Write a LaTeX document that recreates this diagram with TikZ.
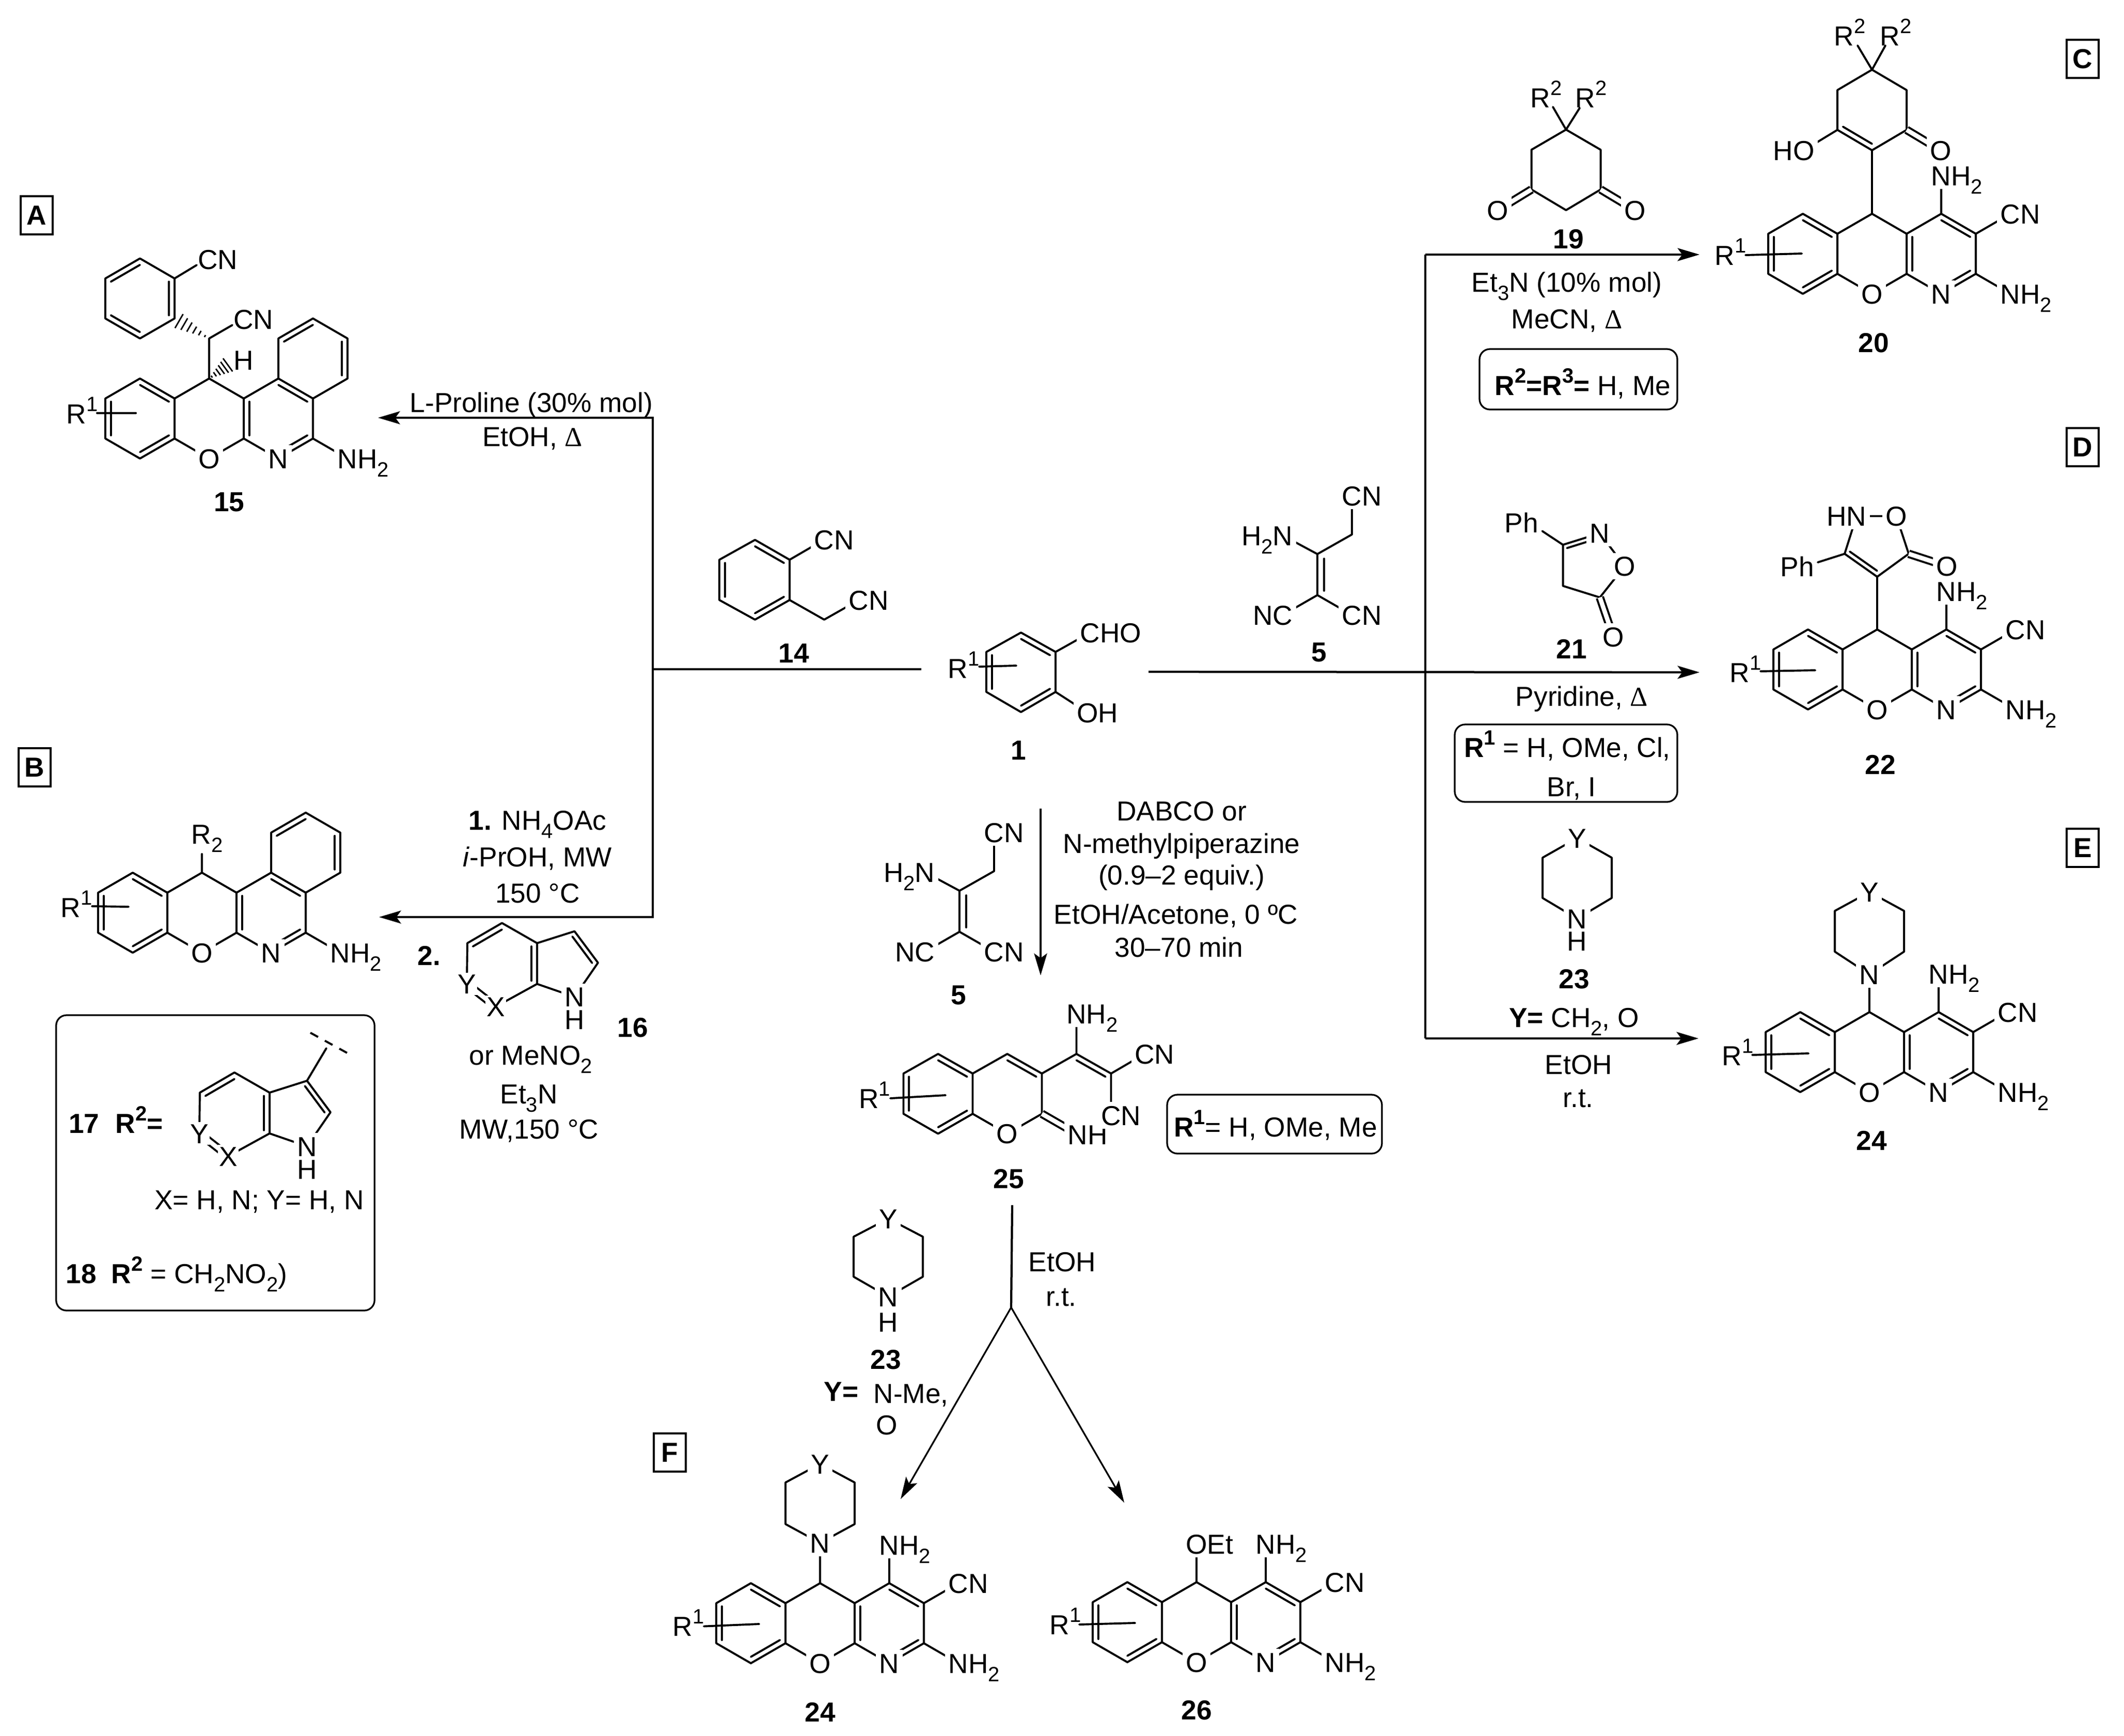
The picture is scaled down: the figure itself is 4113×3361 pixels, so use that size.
\documentclass[tikz,border=0pt]{standalone}
\usepackage{fontspec}
\setmainfont{Liberation Sans}
\newfontfamily\serf{Liberation Serif}
\usetikzlibrary{calc,arrows.meta}
\newcommand\rgt[1]{\rlap{\smash{#1}}}
\newcommand\lft[1]{\llap{\smash{#1}}}
\newcommand\sbs[1]{\raisebox{-.3em}{\fontsize{8}{8}\selectfont #1}}
\newcommand\sps[1]{\raisebox{.45em}{\fontsize{8}{8}\selectfont #1}}
\newcommand\dlt{{\serf Δ}}
\newcommand\NHtwo{N\rgt{H\sbs{2}}}
\newcommand\Cn{C\rgt{N}}
\newcommand\dbl[3]{\draw[bond] ($(#1)!.16!(#3)$) -- ($(#2)!.16!(#3)$);}
\newcommand\hashb[2]{\foreach \hh in {.12,.27,.42,.57,.72,.87}{\draw[line width=.55pt] ($(#1)!\hh!(#2)!{\hh*3.6pt}!90:(#2)$) -- ($(#1)!\hh!(#2)!{-\hh*3.6pt}!90:(#2)$);}}
% chromeno-pyridine core: origin at the pyran CH
\newcommand\core[3]{\begin{scope}[tpl={#2}{#3}]
 \draw[bond] (-2,0)--(-1,1)--(-1,3)--(-2,4)--(-3,3)--(-3,1)--cycle;
 \draw[bond] (-1,1)--(0,0)--(1,1)--(1,3)--(0,4)--(-1,3);
 \draw[bond] (1,1)--(2,0)--(3,1)--(3,3)--(2,4)--(1,3);
 \dbl{-2,0}{-1,1}{-2,2}\dbl{-1,3}{-2,4}{-2,2}\dbl{-3,3}{-3,1}{-2,2}
 \dbl{1,1}{1,3}{2,2}\dbl{2,0}{3,1}{2,2}\dbl{3,3}{2,4}{2,2}
 \node[atom] (#1O) at (0,4) {O};
 \node[atom] (#1N) at (2,4) {N};
\end{scope}}
% amino-cyano pyridine core
\newcommand\pyrid[3]{\core{#1}{#2}{#3}\begin{scope}[tpl={#2}{#3}]
 \draw[bond] (3,1)--(4,0) (3,3)--(4,4) (2,0)--(2,-1.9);
 \node[atom] (#1CN) at (4,0) {\Cn};
 \node[atom] (#1Na) at (4,4) {\NHtwo};
 \node[atom] (#1Nb) at (2,-1.9) {\NHtwo};
\end{scope}}
\newcommand\rone[7]{\node[lab] (#1) at (#2,#3) {R\rgt{\sps{1}}};\draw[bond] (#4,#5)--(#6,#7);}
% piperazine-type ring: name, cx, yY, y1, y2, yN
\newcommand\pipz[6]{\draw[bond] (#2,#6)--(#2-67,#5)--(#2-67,#4)--(#2,#3)--(#2+67,#4)--(#2+67,#5)--cycle;
 \node[atom] (#1Y) at (#2,#3) {Y};\node[atom] (#1N) at (#2,#6) {N};}
% aminotricyanopropene
\newcommand\malo[3]{\begin{scope}[shift={(#2,#3)}]
 \draw[bond] (-67,-36)--(0,0)--(67,-38)--(67,-112.5) (0,0)--(0,79.5) (-67,118)--(0,79.5)--(67,118);
 \draw[bond] (13,9)--(13,71);
 \node[atom] (#1a) at (67,-112.5) {\Cn};
 \node[atom] (#1b) at (-67,-36) {\lft{H\sbs{2}}N};
 \node[atom] (#1c) at (-67,118) {\lft{N}C};
 \node[atom] (#1d) at (67,118) {\Cn};
\end{scope}}
% azaindole
\newcommand\indl[3]{\begin{scope}[shift={(#2,#3)}]
 \draw[bond] (68,118)--(68,39)--(0,0)--(-67,39)--(-68,118);
 \draw[bond] (68,39)--(140.5,16)--(186,77)--(140.5,143)--(68,118)--(-12,162);
 \dbl{0,0}{-67,39}{0,79}\dbl{68,39}{68,118}{0,79}\dbl{140.5,16}{186,77}{115,80}
 \draw[dbo] (-68,118)--(-12,162);
 \node[atom,inner sep=.5pt] (#1Y) at (-68,118) {Y};
 \node[atom,inner sep=.5pt] (#1X) at (-12,162) {X};
 \node[atom] (#1N) at (140.5,143) {N};
 \node[lab] (#1H) at (140.5,187) {H};
\end{scope}}
\newcommand\fnt{\fontsize{10.65}{12}\selectfont}
\tikzset{
 tpl/.style 2 args={shift={(#1,#2)},x=13.4pt,y=-7.75pt},
 bond/.style={line width=.78pt,line cap=round,line join=round},
 dbo/.style={line width=.78pt,double,double distance=1.7pt},
 atom/.style={fill=white,inner sep=1.3pt,text height=7.7pt,text depth=0pt},
 lab/.style={inner sep=0pt,text height=7.7pt,text depth=0pt},
 num/.style={lab,font=\fnt\bfseries},
 rbox/.style={draw,rounded corners=4pt,line width=.65pt,inner sep=0pt},
 tag/.style={draw,font=\fnt\bfseries,line width=.65pt,minimum width=12.4pt,minimum height=14.8pt,inner sep=0pt},
 rail/.style={line width=.85pt},
 arr/.style={line width=.85pt,-{Stealth[length=8.5pt,width=5pt,inset=1.8pt]}},
}
\begin{document}
\begin{tikzpicture}[x=.2pt,y=-.2pt,font=\fnt]
\useasboundingbox (0,0) rectangle (4113,3361);
\fill[white] (0,0) rectangle (4113,3361);

% tags
\node[tag] (tA) at (71,417) {A};
\node[tag] (tB) at (67,1486) {B};
\node[tag] (tC) at (4033,114) {C};
\node[tag] (tD) at (4033,866) {D};
\node[tag] (tE) at (4033,1642) {E};
\node[tag] (tF) at (1297,2813) {F};

% connectors
\coordinate (aL) at (732,809);
\coordinate (cL) at (1264,809);
\coordinate (mL) at (1264,1296);
\coordinate (mLb) at (1784,1296);
\coordinate (bL) at (1264,1776);
\coordinate (dL) at (734,1776);
\draw[arr] (mL) -- (cL) -- (aL);
\draw[arr] (mL) -- (bL) -- (dL);
\draw[rail] (mL) -- (mLb);
\coordinate (mR) at (2224,1301);
\coordinate (vT) at (2760,493);
\coordinate (vB) at (2760,2011);
\coordinate (tR) at (3291,493);
\coordinate (mRe) at (3291,1302);
\coordinate (bR) at (3289,2011);
\draw[arr] (vT) -- (tR);
\draw[arr] (mR) -- (mRe);
\draw[rail] (vT) -- (vB);
\draw[arr] (vB) -- (bR);
\coordinate (cT) at (2015,1566);
\coordinate (cB) at (2015,1889);
\draw[arr] (cT) -- (cB);
\coordinate (sT) at (1960,2334);
\coordinate (sB) at (1958,2532);
\coordinate (fL) at (1744,2903);
\coordinate (fR) at (2177,2910);
\draw[rail] (sT) -- (sB);
\draw[arr,line width=.65pt] (sB) -- (fL);
\draw[arr,line width=.65pt] (sB) -- (fR);

% 15
\core{a}{405}{733}
\begin{scope}[tpl={405}{733}]
 \draw[bond] (2,0)--(2,-2)--(3,-3)--(4,-2)--(4,0)--(3,1);
 \dbl{2,-2}{3,-3}{3,-1}\dbl{4,-2}{4,0}{3,-1}
 \draw[bond] (3,3)--(4,4);
 \node[atom] (aNH) at (4,4) {\NHtwo};
 \draw[bond] (0,0)--(0,-2)--(.67,-2.67);
 \draw[bond] (-1,-3)--(-1,-5)--(-2,-6)--(-3,-5)--(-3,-3)--(-2,-2)--cycle;
 \dbl{-1,-3}{-1,-5}{-2,-4}\dbl{-2,-6}{-3,-5}{-2,-4}\dbl{-3,-3}{-2,-2}{-2,-4}
 \draw[bond] (-1,-5)--(-.36,-5.67);
 \hashb{0,-2}{-1,-3}
 \hashb{0,0}{.62,-.78}
\end{scope}
\node[lab] (aCN1) at (422,502) {CN};
\node[lab] (aCN2) at (491,618) {CN};
\node[lab] (aH) at (472,697) {H};
\rone{aR}{148}{801}{188}{800}{263}{800}
\node[num] (l15) at (444,971) {15};
\node[lab] (tA1) at (1029,779) {L-Proline (30\% mol)};
\node[lab] (tA2) at (1031,845) {EtOH, \dlt};

% B product
\core{b}{391}{1690}
\begin{scope}[tpl={391}{1690}]
 \draw[bond] (2,0)--(2,-2)--(3,-3)--(4,-2)--(4,0)--(3,1);
 \dbl{2,-2}{3,-3}{3,-1}\dbl{4,-2}{4,0}{3,-1}
 \draw[bond] (3,3)--(4,4);
 \node[atom] (bNH) at (4,4) {\NHtwo};
\end{scope}
\coordinate (bRb) at (391,1654);
\draw[bond] (391,1690)--(bRb);
\node[lab] (bR2) at (390,1615) {R\rgt{\sbs{2}}};
\rone{bR}{137}{1757}{178}{1755}{249}{1756}
\node[lab] (tB1) at (1041,1588) {\textbf{1.} NH\sbs{4}OAc};
\node[lab] (tB2) at (1041,1659) {\textit{i}-PrOH, MW};
\node[lab] (tB3) at (1041,1729) {150 °C};
\node[num] (tB4) at (831,1850) {2.};
\indl{p}{972}{1787.5}
\node[num] (l16) at (1225,1989) {16};
\node[lab] (tB5) at (1028,2043) {or MeNO\sbs{2}};
\node[lab] (tB6) at (1024,2118) {Et\sbs{3}N};
\node[lab] (tB7) at (1024,2186) {MW,150 °C};

% box 17/18
\node[rbox,minimum width=123.3pt,minimum height=114.4pt] (box4) at (417,2252) {};
\node[num] (l17) at (163,2175) {17};
\node[lab] (r17) at (269.5,2175) {\textbf{R\sps{2}=}};
\indl{q}{454}{2077}
\coordinate (qA) at (594.5,2093);
\coordinate (qB) at (632,2030);
\coordinate (qC) at (601,2000);
\coordinate (qD) at (672,2039);
\draw[bond] (qA)--(qB);
\draw[line width=.78pt,dash pattern=on 3.4pt off 3pt] (qC)--(qD);
\node[lab] (xy) at (502,2323) {X= H, N; Y= H, N};
\node[num] (l18) at (157.5,2466) {18};
\node[lab] (r18) at (386,2466) {\textbf{R\sps{2}} = CH\sbs{2}NO\sbs{2})};

% 14
\draw[bond] (1462,1045.5)--(1529,1084)--(1529,1162)--(1462,1200)--(1393,1162)--(1393,1084)--cycle;
\dbl{1462,1045.5}{1529,1084}{1461,1123}\dbl{1529,1162}{1462,1200}{1461,1123}\dbl{1393,1162}{1393,1084}{1461,1123}
\draw[bond] (1529,1084)--(1596,1045) (1529,1162)--(1596,1200)--(1663,1162);
\node[atom] (m14a) at (1596,1045) {\Cn};
\node[atom] (m14b) at (1663,1162) {\Cn};
\node[num] (l14) at (1537,1264) {14};

% 1
\draw[bond] (1977,1225)--(2044,1262.5)--(2044,1340)--(1977,1379)--(1910,1340)--(1910,1262.5)--cycle;
\dbl{1977,1225}{2044,1262.5}{1977,1302}\dbl{2044,1340}{1977,1379}{1977,1302}\dbl{1910,1340}{1910,1262.5}{1977,1302}
\draw[bond] (2044,1262.5)--(2111,1225) (2044,1340)--(2106,1380);
\node[atom] (m1a) at (2111,1225) {C\rgt{HO}};
\node[atom] (m1b) at (2106,1380) {O\rgt{H}};
\rone{m1R}{1855}{1294}{1896}{1291}{1968}{1289}
\node[num] (l1) at (1972,1452) {1};

% 5 (both)
\malo{u}{2551}{1073}
\node[num] (l5a) at (2554,1262) {5};
\malo{v}{1858}{1725}
\node[num] (l5b) at (1856,1926) {5};
\node[lab] (c1) at (2288,1570.5) {DABCO or};
\node[lab] (c2) at (2288,1633) {N-methylpiperazine};
\node[lab] (c3) at (2288,1694) {(0.9–2 equiv.)};
\node[lab] (c4) at (2277,1770) {EtOH/Acetone, 0 ºC};
\node[lab] (c5) at (2283,1834) {30–70 min};

% 25
\draw[bond] (1816.5,2041)--(1883.5,2079)--(1883.5,2157)--(1816.5,2195.5)--(1749.5,2157)--(1749.5,2079)--cycle;
\dbl{1816.5,2041}{1883.5,2079}{1816.5,2118}\dbl{1883.5,2157}{1816.5,2195.5}{1816.5,2118}\dbl{1749.5,2157}{1749.5,2079}{1816.5,2118}
\draw[bond] (1883.5,2079)--(1950.5,2041)--(2017.5,2079)--(2017.5,2157)--(1950.5,2195.5)--(1883.5,2157);
\dbl{1950.5,2041}{2017.5,2079}{1950.5,2118}
\draw[bond] (2017.5,2079)--(2084.5,2041)--(2151.5,2079)--(2216.5,2041) (2084.5,2041)--(2084.5,1963) (2151.5,2079)--(2151.5,2160);
\dbl{2084.5,2041}{2151.5,2079}{2084.5,2118}
\draw[dbo] (2017.5,2157)--(2087,2197);
\node[atom] (yO) at (1950.5,2195.5) {O};
\node[atom] (yNH) at (2087,2197) {N\rgt{H}};
\node[atom] (yCN1) at (2216.5,2041) {\Cn};
\node[atom] (yCN2) at (2151.5,2160) {\Cn};
\node[atom] (yNH2) at (2084.5,1963) {\NHtwo};
\rone{yR}{1682.5}{2127}{1724}{2127}{1831}{2121}
\node[num] (l25) at (1953,2282) {25};
\node[rbox,minimum width=83.2pt,minimum height=22.8pt] (box3) at (2468,2177) {};
\node[lab] (t3) at (2470,2182) {\textbf{R\sps{1}}= H, OMe, Me};

% 23 lower
\pipz{w}{1720}{2360}{2395}{2472.5}{2511}
\node[lab] (wH) at (1720,2560) {H};
\node[num] (l23b) at (1715,2632) {23};
\node[num] (yeq) at (1629,2694) {Y=};
\node[lab] (nme) at (1764,2698) {N-Me,};
\node[lab] (oo) at (1717,2759) {O};
\node[lab] (e1) at (2057,2443) {EtOH};
\node[lab] (e2) at (2055,2510) {r.t.};

% 24 F
\draw[bond] (1588,3066)--(1588,2988);
\pyrid{f}{1588}{3066}
\pipz{fp}{1588}{2835}{2871}{2951.5}{2988}
\rone{fR}{1322}{3149.5}{1363}{3149.5}{1470}{3145}
\node[num] (l24b) at (1588,3315) {24};

% 26
\draw[bond] (2317,3064)--(2317,2990);
\pyrid{g}{2317}{3064}
\node[atom] (gO) at (2317,2990) {O\rgt{Et}};
\rone{gR}{2052}{3146}{2090}{3146}{2198}{3143}
\node[num] (l26) at (2317,3311) {26};

% 19
\draw[bond] (3032.5,251)--(3099.5,290)--(3099.5,367)--(3032.5,407)--(2965.5,367)--(2965.5,290)--cycle;
\draw[dbo] (3099.5,367)--(3166,407);
\draw[dbo] (2965.5,367)--(2900,407);
\node[atom] (nO1) at (3166,407) {O};
\node[atom] (nO2) at (2900,407) {O};
\coordinate (nA) at (3007,207);
\coordinate (nB) at (3059,209);
\draw[bond] (3032.5,251)--(nA) (3032.5,251)--(nB);
\node[lab] (nR1) at (2983,189) {R\rgt{\sps{2}}};
\node[lab] (nR2) at (3070,189) {R\rgt{\sps{2}}};
\node[num] (l19) at (3037,462) {19};
\node[lab] (n1) at (3034,546) {Et\sbs{3}N (10\% mol)};
\node[lab] (n2) at (3034,617) {MeCN, \dlt};
\node[rbox,minimum width=76.6pt,minimum height=23.4pt] (box1) at (3056.5,734.5) {};
\node[lab] (t1) at (3065,746) {\textbf{R\sps{2}=R\sps{3}=} H, Me};

% 20
\draw[bond] (3625,414)--(3625,291);
\pyrid{h}{3625}{414}
\draw[bond] (3625,291)--(3692,251.5)--(3692,174.5)--(3625,135)--(3558,174.5)--(3558,251.5)--cycle;
\dbl{3558,251.5}{3625,291}{3625,213}
\draw[bond] (3558,251.5)--(3493,291);
\draw[dbo] (3692,251.5)--(3758,291);
\node[atom] (hOH) at (3493,291) {\lft{H}O};
\node[atom] (hO) at (3758,291) {O};
\coordinate (hA) at (3597,88);
\coordinate (hB) at (3651,88);
\draw[bond] (3625,135)--(hA) (3625,135)--(hB);
\node[lab] (hR1) at (3571,69) {R\rgt{\sps{2}}};
\node[lab] (hR2) at (3660,69) {R\rgt{\sps{2}}};
\rone{hR}{3340}{494}{3380}{494}{3489}{491}
\node[num] (l20) at (3628,663) {20};

% 21
\draw[bond] (3098,1032.7)--(3026.5,1055)--(3026.5,1134.7)--(3098,1157)--(3146,1096.5)--cycle;
\dbl{3098,1032.7}{3026.5,1055}{3075,1095}
\draw[dbo] (3098,1157)--(3124,1233);
\node[atom] (kN) at (3098,1032.7) {N};
\node[atom] (kO) at (3146,1096.5) {O};
\node[atom] (kOb) at (3124,1233) {O};
\coordinate (kA) at (2986.5,1028.5);
\draw[bond] (3026.5,1055)--(kA);
\node[lab] (kPh) at (2946,1012) {Ph};
\node[num] (l21) at (3043,1256.5) {21};
\node[lab] (k1) at (3063,1348) {Pyridine, \dlt};
\node[rbox,minimum width=86.2pt,minimum height=30pt] (box2) at (3032.5,1478) {};
\node[lab] (t2a) at (3035,1447) {\textbf{R\sps{1}} = H, OMe, Cl,};
\node[lab] (t2b) at (3043,1523) {Br, I};

% 22
\draw[bond] (3635,1219)--(3635,1117);
\pyrid{i}{3635}{1219}
\draw[bond] (3635,1117)--(3572,1072.5)--(3595,999.5)--(3672,999.5)--(3696,1072.5)--cycle;
\dbl{3635,1117}{3572,1072.5}{3634,1045}
\draw[dbo] (3696,1072.5)--(3770,1096.5);
\node[atom] (iNH) at (3595,999.5) {\lft{H}N};
\node[atom] (iOr) at (3672,999.5) {O};
\node[atom] (iO) at (3770,1096.5) {O};
\coordinate (iA) at (3520,1089);
\draw[bond] (3572,1072.5)--(iA);
\node[lab] (iPh) at (3480,1097) {Ph};
\rone{iR}{3369}{1302}{3409}{1300}{3515}{1298}
\node[num] (l22) at (3641,1480) {22};

% 23 upper
\pipz{j}{3054}{1623}{1661}{1739}{1779}
\node[lab] (jH) at (3054,1822) {H};
\node[num] (l23a) at (3048,1895) {23};
\node[lab] (j1) at (3048,1970) {\textbf{Y=} CH\sbs{2}, O};
\node[lab] (j2) at (3057,2061) {EtOH};
\node[lab] (j3) at (3056,2125) {r.t.};

% 24 E
\draw[bond] (3620,1960)--(3620,1887);
\pyrid{e}{3620}{1960}
\pipz{ep}{3620}{1727.5}{1764}{1843}{1887}
\rone{eR}{3354}{2044}{3393}{2043}{3502}{2040}
\node[num] (l24a) at (3624,2208) {24};
\end{tikzpicture}
\end{document}
